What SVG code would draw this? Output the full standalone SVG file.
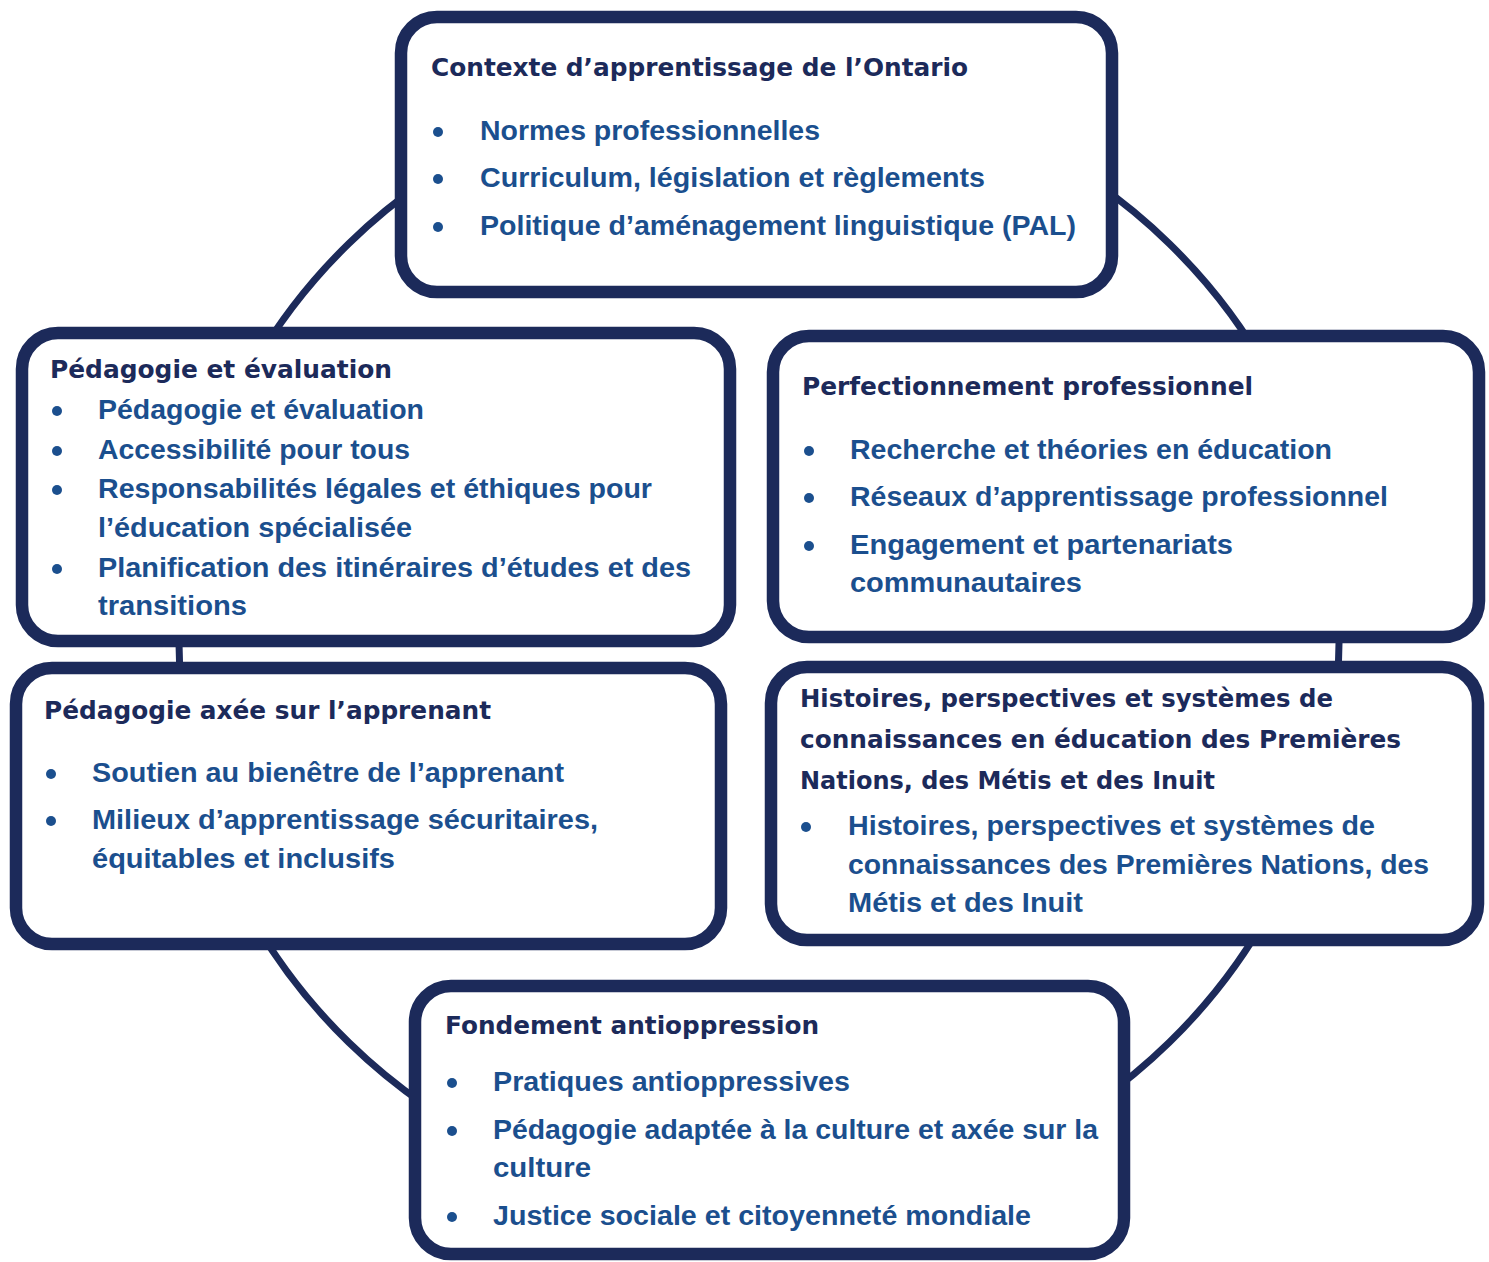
<svg xmlns="http://www.w3.org/2000/svg" width="1489" height="1262" viewBox="0 0 1489 1262">
<style>
.box{fill:#fff;stroke:#1c2a5a;stroke-width:12.5}
.ring{fill:none;stroke:#1c2a5a;stroke-width:7}
.t{font-family:"DejaVu Sans",sans-serif;font-weight:bold;font-size:25px;fill:#1c2a5a}
.i{font-family:"Liberation Sans",Arial,sans-serif;font-weight:bold;font-size:28px;fill:#1b4f8e}
.d{fill:#1b4f8e}
</style>
<rect width="1489" height="1262" fill="#fff"/>
<g id="connectors">
<ellipse class="ring" cx="759" cy="643" rx="580" ry="565"/>
</g>
<g id="n1">
<rect class="box" x="401" y="17" width="711" height="275" rx="36"/>
<text class="t" x="431" y="76" textLength="537" lengthAdjust="spacingAndGlyphs">Contexte d’apprentissage de l’Ontario</text>
<circle class="d" cx="438" cy="132" r="5"/><text class="i" x="480" y="140" textLength="340" lengthAdjust="spacingAndGlyphs">Normes professionnelles</text>
<circle class="d" cx="438" cy="179" r="5"/><text class="i" x="480" y="187" textLength="505" lengthAdjust="spacingAndGlyphs">Curriculum, législation et règlements</text>
<circle class="d" cx="438" cy="227" r="5"/><text class="i" x="480" y="235" textLength="596" lengthAdjust="spacingAndGlyphs">Politique d’aménagement linguistique (PAL)</text>
</g>
<g id="n2">
<rect class="box" x="22" y="333" width="708" height="308" rx="36"/>
<text class="t" x="50" y="378" textLength="342" lengthAdjust="spacingAndGlyphs">Pédagogie et évaluation</text>
<circle class="d" cx="57" cy="411" r="5"/><text class="i" x="98" y="419" textLength="326" lengthAdjust="spacingAndGlyphs">Pédagogie et évaluation</text>
<circle class="d" cx="57" cy="451" r="5"/><text class="i" x="98" y="459" textLength="312" lengthAdjust="spacingAndGlyphs">Accessibilité pour tous</text>
<circle class="d" cx="57" cy="490" r="5"/><text class="i" x="98" y="498" textLength="554" lengthAdjust="spacingAndGlyphs">Responsabilités légales et éthiques pour</text>
<text class="i" x="98" y="537" textLength="314" lengthAdjust="spacingAndGlyphs">l’éducation spécialisée</text>
<circle class="d" cx="57" cy="569" r="5"/><text class="i" x="98" y="577" textLength="593" lengthAdjust="spacingAndGlyphs">Planification des itinéraires d’études et des</text>
<text class="i" x="98" y="615" textLength="149" lengthAdjust="spacingAndGlyphs">transitions</text>
</g>
<g id="n3">
<rect class="box" x="773" y="336" width="706" height="301" rx="36"/>
<text class="t" x="802" y="395" textLength="451" lengthAdjust="spacingAndGlyphs">Perfectionnement professionnel</text>
<circle class="d" cx="809" cy="451" r="5"/><text class="i" x="850" y="459" textLength="482" lengthAdjust="spacingAndGlyphs">Recherche et théories en éducation</text>
<circle class="d" cx="809" cy="498" r="5"/><text class="i" x="850" y="506" textLength="538" lengthAdjust="spacingAndGlyphs">Réseaux d’apprentissage professionnel</text>
<circle class="d" cx="809" cy="546" r="5"/><text class="i" x="850" y="554" textLength="383" lengthAdjust="spacingAndGlyphs">Engagement et partenariats</text>
<text class="i" x="850" y="592" textLength="232" lengthAdjust="spacingAndGlyphs">communautaires</text>
</g>
<g id="n4">
<rect class="box" x="16" y="668" width="705" height="276" rx="36"/>
<text class="t" x="44" y="719" textLength="447" lengthAdjust="spacingAndGlyphs">Pédagogie axée sur l’apprenant</text>
<circle class="d" cx="51" cy="774" r="5"/><text class="i" x="92" y="782" textLength="472" lengthAdjust="spacingAndGlyphs">Soutien au bienêtre de l’apprenant</text>
<circle class="d" cx="51" cy="821" r="5"/><text class="i" x="92" y="829" textLength="506" lengthAdjust="spacingAndGlyphs">Milieux d’apprentissage sécuritaires,</text>
<text class="i" x="92" y="868" textLength="303" lengthAdjust="spacingAndGlyphs">équitables et inclusifs</text>
</g>
<g id="n5">
<rect class="box" x="771" y="667" width="707" height="273" rx="36"/>
<text class="t" x="800" y="707" textLength="533" lengthAdjust="spacingAndGlyphs">Histoires, perspectives et systèmes de</text>
<text class="t" x="800" y="748" textLength="601" lengthAdjust="spacingAndGlyphs">connaissances en éducation des Premières</text>
<text class="t" x="800" y="789" textLength="415" lengthAdjust="spacingAndGlyphs">Nations, des Métis et des Inuit</text>
<circle class="d" cx="806" cy="827" r="5"/><text class="i" x="848" y="835" textLength="527" lengthAdjust="spacingAndGlyphs">Histoires, perspectives et systèmes de</text>
<text class="i" x="848" y="874" textLength="581" lengthAdjust="spacingAndGlyphs">connaissances des Premières Nations, des</text>
<text class="i" x="848" y="912" textLength="235" lengthAdjust="spacingAndGlyphs">Métis et des Inuit</text>
</g>
<g id="n6">
<rect class="box" x="415" y="986" width="709" height="268" rx="36"/>
<text class="t" x="445" y="1034" textLength="374" lengthAdjust="spacingAndGlyphs">Fondement antioppression</text>
<circle class="d" cx="452" cy="1083" r="5"/><text class="i" x="493" y="1091" textLength="357" lengthAdjust="spacingAndGlyphs">Pratiques antioppressives</text>
<circle class="d" cx="452" cy="1131" r="5"/><text class="i" x="493" y="1139" textLength="605" lengthAdjust="spacingAndGlyphs">Pédagogie adaptée à la culture et axée sur la</text>
<text class="i" x="493" y="1177" textLength="98" lengthAdjust="spacingAndGlyphs">culture</text>
<circle class="d" cx="452" cy="1217" r="5"/><text class="i" x="493" y="1225" textLength="538" lengthAdjust="spacingAndGlyphs">Justice sociale et citoyenneté mondiale</text>
</g>
</svg>
